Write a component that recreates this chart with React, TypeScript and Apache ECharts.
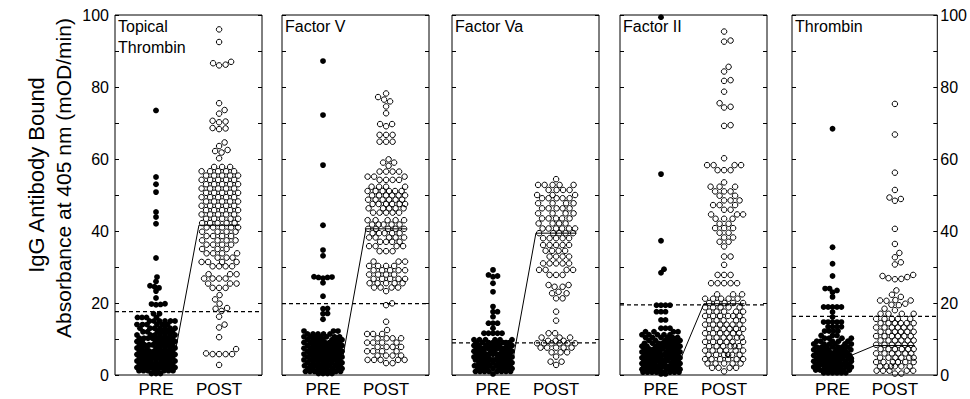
import React, { useEffect, useRef } from 'react';
import * as echarts from 'echarts';

// ---------------- data ----------------
const panelNames = ['Topical\nThrombin', 'Factor V', 'Factor Va', 'Factor II', 'Thrombin'];
const groupLabels = ['PRE', 'POST'];
const yTickLabels = [0, 20, 40, 60, 80, 100];
const yTitleLines = ['IgG Antibody Bound', 'Absorbance at 405 nm (mOD/min)'];

const topicalPre = [
  73.5, 55, 53, 50.8, 45.3, 43.9, 42, 32.5, 27.2, 26, 24.8, 24.5, 24.2, 23.3, 21.4, 19.8, 19.7, 19.6, 19.5,
  17.0, 17.0, 16.0, 16.0, 16.0, 16.0,
  15.0, 15.0, 15.0, 15.0, 15.0, 15.0,
  14.0, 14.0, 14.0, 14.0, 14.0, 14.0,
  13.0, 13.0, 13.0, 13.0, 13.0, 13.0, 13.0,
  12.0, 12.0, 12.0, 12.0, 12.0, 12.0,
  11.1, 11.1, 11.1, 11.1, 11.1, 11.1, 11.1,
  10.2, 10.2, 10.2, 10.2, 10.2, 10.2, 10.2, 10.2,
  9.3, 9.3, 9.3, 9.3, 9.3, 9.3, 9.3,
  8.4, 8.4, 8.4, 8.4, 8.4, 8.4, 8.4, 8.4,
  7.5, 7.5, 7.5, 7.5, 7.5, 7.5, 7.5, 7.5,
  6.6, 6.6, 6.6, 6.6, 6.6, 6.6, 6.6, 6.6,
  5.7, 5.7, 5.7, 5.7, 5.7, 5.7, 5.7, 5.7, 5.7,
  4.8, 4.8, 4.8, 4.8, 4.8, 4.8, 4.8, 4.8,
  3.9, 3.9, 3.9, 3.9, 3.9, 3.9, 3.9, 3.9, 3.9,
  3.0, 3.0, 3.0, 3.0, 3.0, 3.0, 3.0, 3.0,
  2.1, 2.1, 2.1, 2.1, 2.1, 2.1, 2.1, 2.1, 2.1,
  1.2, 1.2, 1.2, 1.2, 1.2, 1.2, 1.2, 1.2,
  0.4, 0.4, 0.4,
];
const topicalPost = [
  96, 92.5, 87, 86.6, 86.2, 86, 75.5, 73.6, 72.6, 70.6, 70.4, 70.2, 68.6, 68.3, 68.5, 64.6, 63.6, 62.5, 62.2, 61.8, 60.2,
  57.8, 57.8, 57.8,
  56.6, 56.6, 56.6, 56.6, 56.6,
  55.4, 55.4, 55.4, 55.4, 55.4,
  54.2, 54.2, 54.2, 54.2, 54.2,
  53.0, 53.0, 53.0, 53.0, 53.0,
  51.8, 51.8, 51.8, 51.8, 51.8,
  50.6, 50.6, 50.6, 50.6, 50.6,
  49.4, 49.4, 49.4, 49.4, 49.4,
  48.2, 48.2, 48.2, 48.2, 48.2,
  47.0, 47.0, 47.0, 47.0, 47.0,
  45.8, 45.8, 45.8, 45.8, 45.8,
  44.6, 44.6, 44.6, 44.6, 44.6,
  43.4, 43.4, 43.4, 43.4, 43.4,
  42.2, 42.2, 42.2, 42.2, 42.2,
  41.0, 41.0, 41.0, 41.0, 41.0,
  39.8, 39.8, 39.8, 39.8,
  38.6, 38.6, 38.6, 38.6,
  37.4, 37.4, 37.4, 37.4,
  36.2, 36.2, 36.2, 36.2,
  35.0, 35.0, 35.0,
  33.8, 33.8, 33.8, 33.8,
  32.6, 32.6, 32.6,
  31.4, 31.4, 31.4, 31.4,
  30.2, 30.2, 30.2, 30.2,
  28.0, 28.0, 28.0,
  26.8, 26.8, 26.8, 26.8,
  25.4, 25.4, 25.4,
  24.2, 24.2, 24.2,
  22.2, 21.0, 19.8, 18.6, 18.4, 17.8, 16.2, 14.0, 13.2, 10.5, 7.2, 6.0, 5.8, 5.8, 5.8, 5.8, 2.8,
];

const factorVPre = [
  87.2, 72.2, 58.3, 41.6, 34.7, 33.1, 27.3, 27.1, 26.9, 27.1, 27.2, 25.6, 21.9, 18.5, 18.4, 17.1, 17.0, 15.5,
  12.2, 12.2, 12.2,
  11.4, 11.4, 11.4, 11.4, 11.4,
  10.6, 10.6, 10.6, 10.6, 10.6, 10.6, 10.6,
  9.8, 9.8, 9.8, 9.8, 9.8, 9.8, 9.8,
  9.0, 9.0, 9.0, 9.0, 9.0, 9.0, 9.0, 9.0,
  8.2, 8.2, 8.2, 8.2, 8.2, 8.2, 8.2, 8.2,
  7.4, 7.4, 7.4, 7.4, 7.4, 7.4, 7.4, 7.4,
  6.6, 6.6, 6.6, 6.6, 6.6, 6.6, 6.6, 6.6,
  5.8, 5.8, 5.8, 5.8, 5.8, 5.8, 5.8, 5.8,
  5.0, 5.0, 5.0, 5.0, 5.0, 5.0, 5.0, 5.0,
  4.2, 4.2, 4.2, 4.2, 4.2, 4.2, 4.2, 4.2,
  3.4, 3.4, 3.4, 3.4, 3.4, 3.4, 3.4, 3.4,
  2.6, 2.6, 2.6, 2.6, 2.6, 2.6, 2.6, 2.6,
  1.8, 1.8, 1.8, 1.8, 1.8, 1.8, 1.8, 1.8,
  1.0, 1.0, 1.0, 1.0, 1.0, 1.0, 1.0, 1.0,
  0.4, 0.4, 0.4, 0.4,
];
const factorVPost = [
  78.2, 77.2, 76.5, 76.0, 74.6, 72.7, 69.7, 69.7, 69.1, 66.7, 66.7, 66.7, 64.8, 64.8, 64.8,
  59.9, 59.0, 59.0, 58.1, 56.5, 56.5, 56.5, 56.5, 55.1, 55.1, 55.1, 54.2, 54.2, 54.2, 54.2,
  52.3, 52.3, 52.3, 52.3,
  51.1, 51.1, 51.1, 51.1, 51.1, 51.1,
  49.9, 49.9, 49.9, 49.9, 49.9, 49.9,
  48.7, 48.7, 48.7, 48.7, 48.7, 48.7,
  47.5, 47.5, 47.5, 47.5, 47.5, 47.5,
  46.3, 46.3, 46.3, 46.3, 46.3,
  45.1, 45.1, 45.1, 45.1, 45.1,
  43.0, 43.0, 43.0, 43.0, 43.0,
  41.8, 41.8, 41.8, 41.8, 41.8,
  40.6, 40.6, 40.6, 40.6, 40.6,
  39.4, 39.4, 39.4, 39.4, 39.4,
  38.2, 38.2, 38.2, 38.2, 38.2,
  37.0, 37.0, 37.0, 37.0,
  35.8, 35.8, 35.8, 35.8,
  34.4, 34.4, 34.4,
  31.5, 31.5, 31.5,
  30.3, 30.3, 30.3, 30.3,
  29.1, 29.1, 29.1, 29.1, 29.1,
  27.9, 27.9, 27.9, 27.9,
  26.7, 26.7, 26.7, 26.7, 26.7,
  25.5, 25.5, 25.5, 25.5, 25.5,
  24.3, 24.3, 24.3, 24.3,
  23.3, 19.9, 19.4, 14.8,
  12.5, 11.4, 11.4, 11.4,
  10.2, 10.2, 10.2, 10.2,
  9.0, 9.0, 9.0, 9.0,
  7.8, 7.8, 7.8, 7.8,
  6.6, 6.6, 6.6, 6.6,
  5.4, 5.4, 5.4, 5.4,
  4.2, 4.2, 4.2, 4.2, 4.2,
  3.3, 3.3,
];

const factorVaPre = [
  29.2, 27.8, 27.5, 27.3, 25.5, 23.1, 19.0, 17.6, 17.6, 16.2, 14.4, 14.4, 14.4, 13.0,
  11.6, 11.6, 11.6, 11.6, 11.6,
  9.8, 9.8, 9.8, 9.8, 9.8, 9.8,
  9.0, 9.0, 9.0, 9.0, 9.0, 9.0, 9.0, 9.0,
  8.2, 8.2, 8.2, 8.2, 8.2, 8.2, 8.2, 8.2,
  7.4, 7.4, 7.4, 7.4, 7.4, 7.4, 7.4, 7.4, 7.4,
  6.6, 6.6, 6.6, 6.6, 6.6, 6.6, 6.6, 6.6,
  5.8, 5.8, 5.8, 5.8, 5.8, 5.8, 5.8, 5.8, 5.8,
  5.0, 5.0, 5.0, 5.0, 5.0, 5.0, 5.0, 5.0,
  4.2, 4.2, 4.2, 4.2, 4.2, 4.2, 4.2, 4.2, 4.2,
  3.4, 3.4, 3.4, 3.4, 3.4, 3.4, 3.4, 3.4,
  2.6, 2.6, 2.6, 2.6, 2.6, 2.6, 2.6, 2.6, 2.6,
  1.8, 1.8, 1.8, 1.8, 1.8, 1.8, 1.8, 1.8,
  1.0, 1.0, 1.0, 1.0, 1.0, 1.0, 1.0, 1.0,
  0.3,
];
const factorVaPost = [
  54.4,
  52.8, 52.8, 52.8, 52.8, 52.8,
  51.4, 51.4, 51.4, 51.4,
  50.0, 50.0, 50.0,
  49.1, 49.1, 49.1, 49.1, 49.1,
  47.7, 47.7, 47.7, 47.7,
  46.3, 46.3, 46.3, 46.3, 46.3,
  44.9, 44.9, 44.9, 44.9,
  43.5, 43.5, 43.5, 43.5, 43.5,
  42.1, 42.1, 42.1, 42.1,
  40.7, 40.7, 40.7, 40.7, 40.7, 40.7,
  39.4, 39.4, 39.4, 39.4, 39.4,
  38.0, 38.0, 38.0, 38.0, 38.0,
  36.1, 36.1, 36.1, 36.1, 36.1,
  34.5, 34.5, 34.5, 34.5,
  32.9, 32.9, 32.9, 32.9,
  31.0, 31.0, 31.0, 31.0, 31.0,
  29.2, 29.2, 29.2, 29.2,
  27.8, 27.8, 27.8,
  25.0, 25.0, 24.5, 24.5, 23.1, 22.7, 22.7, 21.3, 21.3, 17.6, 15.1,
  11.6, 11.6, 10.4, 10.4, 10.4, 9.5, 9.5, 9.5,
  8.8, 8.8, 8.8, 8.8, 8.8, 8.8,
  7.6, 7.6, 7.6, 7.6, 7.6,
  6.3, 6.3, 6.3, 5.1, 3.7, 3.7, 2.8,
];

const factorIIPre = [
  99.4, 55.8, 37.3, 29.4, 28.4,
  19.4, 19.4, 19.4, 19.4, 17.6, 17.6, 17.6, 15.3, 15.3, 13.0, 13.0, 13.0,
  12.0, 12.0, 12.0, 12.0,
  11.2, 11.2, 11.2, 11.2, 11.2,
  10.4, 10.4, 10.4, 10.4, 10.4, 10.4,
  9.6, 9.6, 9.6, 9.6, 9.6, 9.6,
  8.8, 8.8, 8.8, 8.8, 8.8, 8.8, 8.8,
  8.0, 8.0, 8.0, 8.0, 8.0, 8.0, 8.0, 8.0,
  7.2, 7.2, 7.2, 7.2, 7.2, 7.2, 7.2, 7.2,
  6.4, 6.4, 6.4, 6.4, 6.4, 6.4, 6.4, 6.4, 6.4,
  5.6, 5.6, 5.6, 5.6, 5.6, 5.6, 5.6, 5.6, 5.6,
  4.8, 4.8, 4.8, 4.8, 4.8, 4.8, 4.8, 4.8, 4.8,
  4.0, 4.0, 4.0, 4.0, 4.0, 4.0, 4.0, 4.0, 4.0,
  3.2, 3.2, 3.2, 3.2, 3.2, 3.2, 3.2, 3.2, 3.2,
  2.4, 2.4, 2.4, 2.4, 2.4, 2.4, 2.4, 2.4, 2.4,
  1.6, 1.6, 1.6, 1.6, 1.6, 1.6, 1.6, 1.6, 1.6,
  0.8, 0.8, 0.8, 0.8, 0.8, 0.8, 0.8, 0.8,
  0.3, 0.3,
];
const factorIIPost = [
  95.4, 92.9, 92.6, 85.6, 84.3, 81.9, 81.7, 78.7, 75.5, 74.5, 74.3, 69.4, 69.2,
  60.2, 58.3, 58.3, 58.3, 58.3, 56.9, 56.9, 56.9,
  53.5, 52.3, 52.3, 52.3, 51.0, 51.0, 51.0, 49.8, 49.8, 48.5, 48.5, 48.5,
  47.2, 47.2, 47.2, 45.9, 45.9, 44.6, 44.6, 44.6, 43.4, 43.4, 43.4, 42.0, 42.0,
  40.8, 40.8, 40.8, 39.5, 39.5, 38.2, 38.2, 37.0, 37.0, 35.7,
  32.9, 32.9, 30.6, 27.8, 27.8, 27.8, 25.5, 25.5, 25.5, 25.5, 25.5,
  22.4, 22.4, 22.4,
  21.2, 21.2, 21.2, 21.2, 21.2,
  20.0, 20.0, 20.0, 20.0, 20.0,
  18.8, 18.8, 18.8, 18.8, 18.8,
  17.6, 17.6, 17.6, 17.6, 17.6,
  16.4, 16.4, 16.4, 16.4, 16.4, 16.4,
  15.2, 15.2, 15.2, 15.2, 15.2,
  14.0, 14.0, 14.0, 14.0, 14.0, 14.0,
  12.8, 12.8, 12.8, 12.8, 12.8, 12.8,
  11.6, 11.6, 11.6, 11.6, 11.6, 11.6,
  10.4, 10.4, 10.4, 10.4, 10.4, 10.4,
  9.2, 9.2, 9.2, 9.2, 9.2, 9.2,
  8.0, 8.0, 8.0, 8.0, 8.0, 8.0,
  6.8, 6.8, 6.8, 6.8, 6.8, 6.8,
  5.6, 5.6, 5.6, 5.6, 5.6, 5.6,
  4.4, 4.4, 4.4, 4.4, 4.4, 4.4,
  3.2, 3.2, 3.2, 3.2, 3.2,
  2.0, 2.0, 2.0, 2.0,
  1.0,
];

const thrombinPre = [
  68.4, 35.5, 30.9, 27.5, 24.0, 24.0, 23.5, 23.0, 21.7,
  18.9, 18.9, 18.9, 18.9, 18.9, 17.5, 16.1,
  14.7, 14.7, 14.7, 14.7, 14.7,
  13.4, 13.4, 13.4, 13.4,
  12.2, 12.2, 12.2, 12.2,
  11.0, 11.0, 11.0,
  10.2, 10.2, 10.2, 10.2,
  9.4, 9.4, 9.4, 9.4, 9.4,
  8.6, 8.6, 8.6, 8.6, 8.6, 8.6,
  7.8, 7.8, 7.8, 7.8, 7.8, 7.8, 7.8,
  7.0, 7.0, 7.0, 7.0, 7.0, 7.0, 7.0, 7.0,
  6.2, 6.2, 6.2, 6.2, 6.2, 6.2, 6.2, 6.2,
  5.4, 5.4, 5.4, 5.4, 5.4, 5.4, 5.4, 5.4, 5.4,
  4.6, 4.6, 4.6, 4.6, 4.6, 4.6, 4.6, 4.6, 4.6,
  3.8, 3.8, 3.8, 3.8, 3.8, 3.8, 3.8, 3.8, 3.8,
  3.0, 3.0, 3.0, 3.0, 3.0, 3.0, 3.0, 3.0, 3.0,
  2.2, 2.2, 2.2, 2.2, 2.2, 2.2, 2.2, 2.2, 2.2,
  1.4, 1.4, 1.4, 1.4, 1.4, 1.4, 1.4, 1.4, 1.4,
  0.6, 0.6, 0.6, 0.6, 0.6, 0.6,
];
const thrombinPost = [
  75.3, 66.8, 56.2, 51.4, 49.3, 48.9, 48.4, 40.6, 36.4, 33.9, 32.7, 31.3, 30.7,
  27.8, 27.5, 27.2, 26.7, 26.6, 26.9, 23.5, 22.3, 21.7, 20.7, 20.8, 20.6, 20.7, 19.8, 19.5, 19.4, 18.4, 18.0,
  17.0, 17.0, 17.0, 17.0,
  15.6, 15.6, 15.6, 15.6, 15.6,
  14.4, 14.4, 14.4, 14.4, 14.4, 14.4,
  13.2, 13.2, 13.2, 13.2, 13.2, 13.2,
  12.0, 12.0, 12.0, 12.0, 12.0, 12.0,
  10.8, 10.8, 10.8, 10.8, 10.8, 10.8,
  9.6, 9.6, 9.6, 9.6, 9.6, 9.6,
  8.4, 8.4, 8.4, 8.4, 8.4, 8.4,
  7.2, 7.2, 7.2, 7.2, 7.2, 7.2,
  6.0, 6.0, 6.0, 6.0, 6.0, 6.0,
  4.8, 4.8, 4.8, 4.8, 4.8, 4.8,
  3.6, 3.6, 3.6, 3.6, 3.6, 3.6,
  2.4, 2.4, 2.4, 2.4, 2.4, 2.4,
  1.2, 1.2, 1.2, 1.2, 1.2,
  0.4, 0.4,
];

const preValues = [topicalPre, factorVPre, factorVaPre, factorIIPre, thrombinPre];
const postValues = [topicalPost, factorVPost, factorVaPost, factorIIPost, thrombinPost];
const cutoffs = [17.6, 19.8, 8.9, 19.5, 16.3];
const preMedians = [7.8, 5.5, 4.6, 4.8, 5.6];
const postMedians = [41.6, 40.6, 39.4, 19.8, 8.2];

// ---------------- layout ----------------
const FONT = '"Liberation Sans", Arial, Helvetica, sans-serif';
const GRID_LEFTS = [115, 282, 452, 620, 792];
const GRID_TOP = 15;
const GRID_W = 147;
const GRID_H = 360;
const XMIN = 0.35;
const XMAX = 2.68;
const PX_X = GRID_W / (XMAX - XMIN);
const PX_Y = GRID_H / 100;
const HALF = 0.32;

// deterministic beeswarm layout: horizontal offset so points don't overlap
function swarm(values: number[], center: number, sep: number, maxHalf: number): number[][] {
  const idx = values.map((_, i) => i).sort((a, b) => values[a] - values[b]);
  const placed: [number, number][] = [];
  const out: number[][] = [];
  for (const i of idx) {
    const py = values[i] * PX_Y;
    let bestX = 0;
    let bestD = -1;
    for (let k = 0; k <= maxHalf * 4; k++) {
      const dx = (k % 2 === 1 ? 1 : -1) * Math.ceil(k / 2) * 0.5;
      if (Math.abs(dx) > maxHalf) break;
      let minD = Infinity;
      for (const [qx, qy] of placed) {
        const dyy = py - qy;
        if (Math.abs(dyy) >= sep) continue;
        const d = Math.hypot(dx - qx, dyy);
        if (d < minD) minD = d;
      }
      if (minD >= sep) {
        bestX = dx;
        bestD = Infinity;
        break;
      }
      if (minD > bestD) {
        bestD = minD;
        bestX = dx;
      }
    }
    placed.push([bestX, py]);
    out.push([center + bestX / PX_X, values[i]]);
  }
  return out;
}

export default function App() {
  const ref = useRef<HTMLDivElement>(null);

  useEffect(() => {
    if (!ref.current) return;
    const chart = echarts.init(ref.current, null, { renderer: 'svg' });

    const grids: any[] = [];
    const xAxes: any[] = [];
    const yAxes: any[] = [];
    const series: any[] = [];
    const graphics: any[] = [];

    const yLabelFmt = (v: number) => (yTickLabels.indexOf(v) >= 0 ? String(v) : '');

    panelNames.forEach((name, i) => {
      grids.push({
        left: GRID_LEFTS[i],
        top: GRID_TOP,
        width: GRID_W,
        height: GRID_H,
        show: true,
        borderColor: '#000',
        borderWidth: 1,
        backgroundColor: 'transparent',
      });
      xAxes.push({
        gridIndex: i,
        type: 'value',
        min: XMIN,
        max: XMAX,
        axisLine: { show: false },
        axisTick: { show: false },
        splitLine: { show: false },
        axisLabel: {
          customValues: [1, 2],
          formatter: (v: number) => groupLabels[Math.round(v) - 1] || '',
          color: '#000',
          fontSize: 17,
          fontFamily: FONT,
          margin: 6,
        },
      });
      [0, 1].forEach((side) => {
        const showLabel = (side === 0 && i === 0) || (side === 1 && i === panelNames.length - 1);
        yAxes.push({
          gridIndex: i,
          type: 'value',
          position: side === 0 ? 'left' : 'right',
          min: 0,
          max: 100,
          interval: 10,
          axisLine: { show: false },
          axisTick: { show: true, inside: true, length: 4, lineStyle: { color: '#000', width: 1 } },
          splitLine: { show: false },
          axisLabel: {
            show: showLabel,
            formatter: yLabelFmt,
            color: '#000',
            fontSize: 16,
            fontFamily: FONT,
            margin: side === 0 ? 6 : 3,
          },
        });
      });

      series.push({
        type: 'scatter',
        xAxisIndex: i,
        yAxisIndex: 2 * i,
        data: swarm(preValues[i], 1, 4.4, 19),
        symbol: 'circle',
        symbolSize: 5.8,
        clip: false,
        itemStyle: { color: '#000', opacity: 1 },
        silent: true,
        z: 2,
      });
      series.push({
        type: 'scatter',
        xAxisIndex: i,
        yAxisIndex: 2 * i,
        data: swarm(postValues[i], 2, 6.2, 19),
        symbol: 'circle',
        symbolSize: 5.5,
        clip: false,
        itemStyle: { color: 'rgba(255,255,255,0)', borderColor: '#000', borderWidth: 1, opacity: 1 },
        silent: true,
        z: 2,
      });
      series.push({
        type: 'line',
        xAxisIndex: i,
        yAxisIndex: 2 * i,
        data: [
          [XMIN, cutoffs[i]],
          [XMAX, cutoffs[i]],
        ],
        symbol: 'none',
        lineStyle: { color: '#000', width: 1.3, type: [4, 3] },
        silent: true,
        z: 3,
      });
      series.push({
        type: 'line',
        xAxisIndex: i,
        yAxisIndex: 2 * i,
        data: [
          [1 - HALF, preMedians[i]],
          [1 + HALF, preMedians[i]],
          [2 - HALF, postMedians[i]],
          [2 + HALF, postMedians[i]],
        ],
        symbol: 'none',
        lineStyle: { color: '#000', width: 1 },
        silent: true,
        z: 3,
      });

      graphics.push({
        type: 'text',
        x: GRID_LEFTS[i] + 3,
        y: 16,
        z: 10,
        style: {
          text: name,
          fill: '#000',
          font: `16px ${FONT}`,
          lineHeight: 21,
          verticalAlign: 'top',
          align: 'left',
        },
      });
    });

    graphics.push({
      type: 'text',
      x: 36,
      y: 175,
      rotation: Math.PI / 2,
      style: {
        text: yTitleLines[0],
        fill: '#000',
        font: `22px ${FONT}`,
        align: 'center',
        verticalAlign: 'middle',
      },
    });
    graphics.push({
      type: 'text',
      x: 63,
      y: 178,
      rotation: Math.PI / 2,
      style: {
        text: yTitleLines[1],
        fill: '#000',
        font: `21px ${FONT}`,
        align: 'center',
        verticalAlign: 'middle',
      },
    });

    chart.setOption({
      animation: false,
      backgroundColor: '#fff',
      grid: grids,
      xAxis: xAxes,
      yAxis: yAxes,
      series,
      graphic: graphics,
    });

    return () => chart.dispose();
  }, []);

  return (
    <div
      ref={ref}
      style={{ position: 'absolute', left: 0, top: 0, width: 970, height: 399, background: '#fff' }}
    />
  );
}
